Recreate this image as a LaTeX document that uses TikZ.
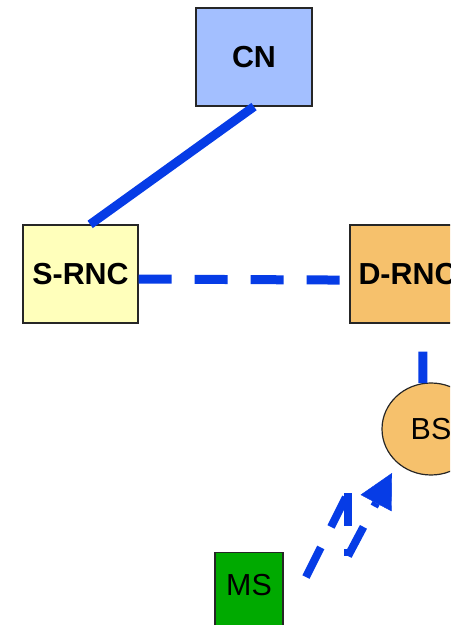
\documentclass[tikz,border=0pt]{standalone}
\usepackage{fontspec}
\setmainfont{Liberation Sans}
\usetikzlibrary{arrows.meta, shapes.geometric, positioning}

\definecolor{cnblue}{RGB}{163,191,255}
\definecolor{srncyellow}{RGB}{255,255,187}
\definecolor{rncorange}{RGB}{246,193,108}
\definecolor{msgreen}{RGB}{0,170,0}
\definecolor{linkblue}{RGB}{6,60,230}

\begin{document}
\begin{tikzpicture}[x=0.5pt, y=-0.5pt, on grid,
		font=\fontsize{15.2}{18}\selectfont,
		box/.style={draw=black!85, line width=0.6pt, rectangle, inner sep=0pt,
			minimum width=57.5pt, minimum height=49pt},
		rnc/.style={box, font=\fontsize{15.2}{18}\selectfont\bfseries},
		link/.style={draw=linkblue, line width=4.5pt},
		dashlink/.style={link, dash pattern=on 16.5pt off 11.5pt},
		radio/.style={draw=linkblue, line width=4pt, dash pattern=on 16.5pt off 11.5pt}]
		\useasboundingbox (0,0) rectangle (450,625);
		\clip (0,0) rectangle (450,625);
		
		\node[rnc, fill=cnblue, minimum width=58pt] (cn) at (254,57) {CN};
		\node[rnc, fill=srncyellow] (srnc) at (80.5,274) {S-RNC};
		\node[rnc, fill=rncorange, right=163.5pt of srnc] (drnc) {D-RNC};
		\node[ellipse, draw=black!85, line width=0.6pt, fill=rncorange, inner sep=0pt,
			minimum width=49pt, minimum height=46pt,
			below right=77.5pt and 11.75pt of drnc] (bs) {BS};
		\node[box, fill=msgreen, minimum width=34pt, minimum height=0pt, anchor=north,
			inner ysep=10.5pt, text height=11pt, text depth=20pt] (ms) at (249,552) {MS};
		
		% radio link, dashes start again on every leg
		\coordinate (c0) at (306,577);
		\coordinate (c1) at (348,493);
		\coordinate (c2) at (348,556);
		\coordinate (tip) at (392,473);
		
		\draw[link] (cn.south) -- (srnc.79);
		\draw[dashlink] (srnc.-5.5) -- (drnc.-174.5);
		\draw[dashlink, shorten <=14pt] (drnc.-73) -- (bs.100);
		\path[radio] (c0) edge (c1)
		(c1) edge (c2)
		(c2) edge[-{Triangle[length=17pt, width=17.5pt, line width=0.2pt, fill=linkblue]}] (tip);
\end{tikzpicture}
\end{document}
